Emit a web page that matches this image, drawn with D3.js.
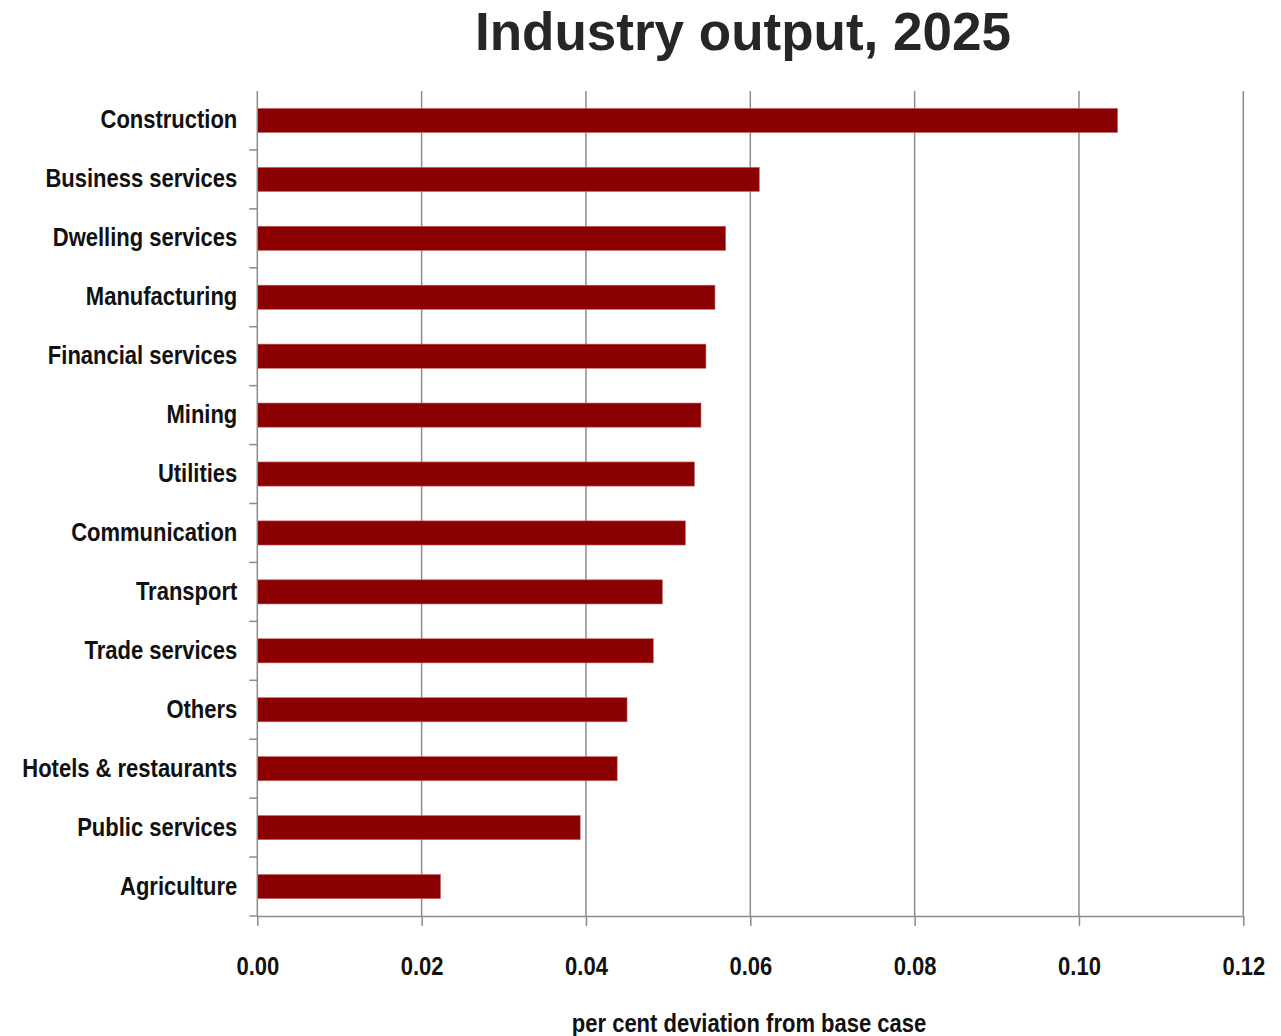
<!DOCTYPE html>
<html>
<head>
<meta charset="utf-8">
<script src="https://cdn.jsdelivr.net/npm/d3@7"></script>
<style>
  body { margin: 0; background: #fff; }
  .narrow { font-family: "Liberation Sans", Arial, sans-serif; font-weight: bold; }
</style>
</head>
<body>
<svg width="1281" height="1036"></svg>
<script>
/* ---------- data ---------- */
var industries = ['Construction', 'Business services', 'Dwelling services', 'Manufacturing',
  'Financial services', 'Mining', 'Utilities', 'Communication', 'Transport', 'Trade services',
  'Others', 'Hotels & restaurants', 'Public services', 'Agriculture'];
var deviation = [0.1047, 0.0611, 0.0570, 0.0557, 0.0546, 0.0540, 0.0532, 0.0521, 0.0493,
  0.0482, 0.0450, 0.0438, 0.0393, 0.0223];
var xTicks = [0, 0.02, 0.04, 0.06, 0.08, 0.10, 0.12];

/* ---------- layout ---------- */
var m = { left: 257.3, right: 1243.3, top: 91, bottom: 916 };
var squeeze = 0.88; // no narrow font installed, so squash Liberation Sans bold
var svg = d3.select('svg');

var x = d3.scaleLinear().domain([0, 0.12]).range([m.left, m.right]);
var y = d3.scaleBand().domain(industries).range([m.top, m.bottom]).paddingInner(0.59).paddingOuter(0.295);
var band = d3.scaleBand().domain(industries).range([m.top, m.bottom]);

// vertical grid
svg.append('g')
  .selectAll('line')
  .data(xTicks.slice(1))
  .join('line')
  .attr('x1', d => x(d)).attr('x2', d => x(d))
  .attr('y1', m.top).attr('y2', m.bottom)
  .attr('stroke', '#8c8c8c').attr('stroke-width', 1.5);

// bars
svg.append('g')
  .selectAll('rect')
  .data(industries)
  .join('rect')
  .attr('x', x(0))
  .attr('y', d => y(d))
  .attr('width', (d, i) => x(deviation[i]) - x(0))
  .attr('height', y.bandwidth())
  .attr('fill', '#8b0000')
  .attr('stroke', '#c96a6a').attr('stroke-width', 0.6);

// x axis
var xAxis = d3.axisBottom(x).tickValues(xTicks).tickFormat(d3.format('.2f')).tickSize(10).tickSizeOuter(0);
var gx = svg.append('g').attr('transform', 'translate(0,' + m.bottom + ')').call(xAxis);
gx.select('.domain').attr('stroke', '#8c8c8c').attr('stroke-width', 1.5);
gx.selectAll('.tick line').attr('stroke', '#8c8c8c').attr('stroke-width', 1.5);
gx.selectAll('.tick text')
  .attr('class', 'narrow').attr('font-size', 25).attr('fill', '#111')
  .attr('dy', 0).attr('y', 59)
  .attr('transform', 'scale(' + squeeze + ',1)');

// y axis line + ticks between categories
svg.append('line')
  .attr('x1', m.left).attr('x2', m.left)
  .attr('y1', m.top).attr('y2', m.bottom)
  .attr('stroke', '#8c8c8c').attr('stroke-width', 1.5);
svg.append('g')
  .selectAll('line')
  .data(industries)
  .join('line')
  .attr('x1', m.left - 8).attr('x2', m.left)
  .attr('y1', d => band(d) + band.bandwidth()).attr('y2', d => band(d) + band.bandwidth())
  .attr('stroke', '#8c8c8c').attr('stroke-width', 1.5);

// category labels
svg.append('g')
  .selectAll('text')
  .data(industries)
  .join('text')
  .attr('class', 'narrow')
  .attr('transform', d => 'translate(' + (m.left - 20) + ',' + (band(d) + band.bandwidth() / 2 + 8) + ') scale(' + squeeze + ',1)')
  .attr('text-anchor', 'end')
  .attr('font-size', 25)
  .attr('fill', '#111')
  .text(d => d);

// title
svg.append('text')
  .attr('x', 743).attr('y', 50)
  .attr('text-anchor', 'middle')
  .attr('font-family', 'Liberation Sans, Arial, sans-serif')
  .attr('font-weight', 'bold')
  .attr('font-size', 53)
  .attr('fill', '#262626')
  .text('Industry output, 2025');

// axis title
svg.append('text')
  .attr('class', 'narrow')
  .attr('transform', 'translate(749,1032) scale(' + squeeze + ',1)')
  .attr('text-anchor', 'middle')
  .attr('font-size', 25)
  .attr('fill', '#111')
  .text('per cent deviation from base case');
</script>
</body>
</html>
